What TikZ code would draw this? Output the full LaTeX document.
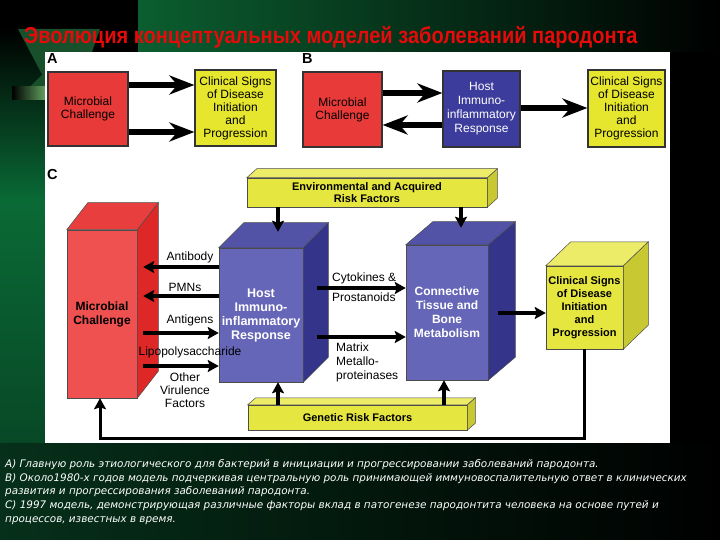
\documentclass[tikz,border=0pt]{standalone}
\usepackage{fontspec}
\setmainfont{Liberation Sans}
\newfontfamily\capfont{DejaVu Sans}
\usepackage{graphicx}
\usetikzlibrary{arrows.meta}
\definecolor{redA}{RGB}{232,58,56}
\definecolor{yelA}{RGB}{230,230,46}
\definecolor{blueB}{RGB}{60,60,156}
\definecolor{redF}{RGB}{239,80,80}
\definecolor{redS}{RGB}{222,40,40}
\definecolor{redT}{RGB}{232,62,62}
\definecolor{bluF}{RGB}{102,102,184}
\definecolor{bluS}{RGB}{52,52,138}
\definecolor{bluT}{RGB}{82,82,166}
\definecolor{yelF}{RGB}{230,230,64}
\definecolor{yelS}{RGB}{200,200,50}
\definecolor{yelT}{RGB}{236,236,104}
\definecolor{gA}{RGB}{10,106,54}
\definecolor{gB}{RGB}{8,72,38}
\definecolor{gC}{RGB}{6,48,26}
\definecolor{gTop}{RGB}{11,94,48}
\definecolor{gDeco}{RGB}{24,80,44}
\definecolor{titleRed}{RGB}{230,10,10}

\newcommand{\boxsides}[5]{%
  \filldraw[fill=#4, draw=black!70, line width=0.5pt] (#1.north east) -- ++(#2,#3) -- ([shift={(#2,#3)}]#1.south east) -- (#1.south east) -- cycle;
  \filldraw[fill=#5, draw=black!70, line width=0.5pt] (#1.north west) -- ++(#2,#3) -- ([shift={(#2,#3)}]#1.north east) -- (#1.north east) -- cycle;
}

\begin{document}
\begin{tikzpicture}[x=1pt, y=-1pt,
  flat/.style={draw=black!80, line width=1.2pt, align=center, inner sep=0pt, font=\fontsize{12}{13}\selectfont},
  front/.style={draw=black!70, line width=0.5pt, align=center, inner sep=0pt, font=\bfseries\fontsize{12}{14}\selectfont},
  lbl/.style={align=center, inner sep=0pt, font=\fontsize{12}{13}\selectfont},
  panel/.style={anchor=west, inner sep=0pt, font=\bfseries\fontsize{14.5}{14.5}\selectfont},
  bigarrow/.style={line width=6pt, -{Stealth[length=25pt,width=19pt,inset=8pt]}},
  arrC/.style={line width=3.5pt, -{Stealth[length=11pt,width=12pt,inset=2pt]}}]
\useasboundingbox (0,0) rectangle (720,540);
\fill[black] (0,0) rectangle (720,540);
\shade[left color=gTop, right color=black] (138,0) rectangle (720,52);
\shade[top color=black, bottom color=gA] (0,28) rectangle (45,200);
\shade[top color=gA, bottom color=gB] (0,200) rectangle (45,443);
\shade[left color=gC, right color=black] (0,443) rectangle (720,540);
\fill[gDeco] (18,29) -- (100,29) -- (92,52) -- (45,52) -- (45,80) -- cycle;
\fill[gDeco] (30,87) -- (45,72) -- (45,87) -- cycle;
\shade[left color=black, right color=green!25!gray] (12,87) rectangle (45,100);
\fill[white] (45,52) rectangle (670,443);

\node[anchor=west, inner sep=0pt, text=titleRed, font=\bfseries\fontsize{23}{25}\selectfont] (title) at (24,37)
  {\scalebox{0.87}[1]{Эволюция концептуальных моделей заболеваний пародонта}};

% A
\node[panel] (labA) at (47,59) {A};
\node[flat, fill=redA, minimum width=80pt, minimum height=74pt] (microA) at (88,109) {Microbial\\Challenge};
\node[flat, fill=yelA, minimum width=81pt, minimum height=76pt] (clinA) at (235.5,108) {Clinical Signs\\of Disease\\Initiation\\and\\Progression};
\draw[bigarrow] (microA.east |- 0,85) -- (clinA.west |- 0,85);
\draw[bigarrow] (microA.east |- 0,132) -- (clinA.west |- 0,132);

% B
\node[panel] (labB) at (302,59) {B};
\node[flat, fill=redA, minimum width=79pt, minimum height=75pt] (microB) at (342.5,109.5) {Microbial\\Challenge};
\node[flat, fill=blueB, text=white, minimum width=77pt, minimum height=76pt, font=\fontsize{12}{14}\selectfont] (hostB) at (481.5,109) {Host\\Immuno-\\inflammatory\\Response};
\node[flat, fill=yelA, minimum width=77pt, minimum height=77pt] (clinB) at (626.5,108.5) {Clinical Signs\\of Disease\\Initiation\\and\\Progression};
\draw[bigarrow] (microB.east |- 0,93) -- (hostB.west |- 0,93);
\draw[bigarrow] (hostB.west |- 0,125) -- (microB.east |- 0,125);
\draw[bigarrow] (hostB.east |- 0,108) -- (clinB.west |- 0,108);

% C
\node[panel] (labC) at (47,175) {C};
\node[front, fill=yelF, minimum width=240pt, minimum height=29pt, font=\bfseries\fontsize{11}{12.5}\selectfont] (envC) at (367,192.5) {Environmental and Acquired\\Risk Factors};
\boxsides{envC}{10}{-9}{yelS}{yelT}
\node[front, fill=redF, minimum width=70pt, minimum height=168pt] (microC) at (102,314) {Microbial\\Challenge};
\boxsides{microC}{21}{-27}{redS}{redT}
\node[front, fill=bluF, text=white, minimum width=84pt, minimum height=134pt, font=\bfseries\fontsize{12.5}{14}\selectfont] (hostC) at (261,315) {Host\\Immuno-\\inflammatory\\Response};
\boxsides{hostC}{25}{-25}{bluS}{bluT}
\node[front, fill=bluF, text=white, minimum width=82pt, minimum height=135pt] (connC) at (447,312.5) {Connective\\Tissue and\\Bone\\Metabolism};
\boxsides{connC}{27}{-23}{bluS}{bluT}
\node[front, fill=yelF, minimum width=77pt, minimum height=83pt, font=\bfseries\fontsize{11}{13}\selectfont] (clinC) at (584.5,307.5) {Clinical Signs\\of Disease\\Initiation\\and\\Progression};
\boxsides{clinC}{25}{-24}{yelS}{yelT}
\node[front, fill=yelF, minimum width=219pt, minimum height=25pt, font=\bfseries\fontsize{11}{12}\selectfont] (genC) at (357.5,417.5) {Genetic Risk Factors};
\boxsides{genC}{8}{-7}{yelS}{yelT}

\coordinate (mR) at ([xshift=6pt]microC.east);
\coordinate (hR) at ([xshift=14pt]hostC.east);
\coordinate (cR) at ([xshift=10pt]connC.east);
\coordinate (hT) at ([shift={(17,-16)}]hostC.north);
\coordinate (cT) at ([shift={(14,-17)}]connC.north);
\coordinate (hB) at ([xshift=17pt]hostC.south);
\coordinate (cB) at ([xshift=-3pt]connC.south);
\coordinate (loop) at (0,438);

\node[lbl] (antibody) at (190,257) {Antibody};
\node[lbl] (pmns) at (185,287) {PMNs};
\node[lbl] (antigens) at (190,320) {Antigens};
\node[lbl] (lps) at (190,352) {Lipopolysaccharide};
\node[lbl] (other) at (185,390) {Other\\Virulence\\Factors};
\node[lbl, anchor=west] (cyto) at (332,278) {Cytokines \&};
\node[lbl, anchor=west] (prost) at (332,297) {Prostanoids};
\node[lbl, anchor=west, align=left, font=\fontsize{12}{14}\selectfont] (mmp) at (336,362) {Matrix\\Metallo-\\proteinases};

\draw[arrC] (hostC.west |- 0,267) -- (mR |- 0,267);
\draw[arrC] (hostC.west |- 0,296) -- (mR |- 0,296);
\draw[arrC] (mR |- 0,333) -- (hostC.west |- 0,333);
\draw[arrC] (mR |- 0,366) -- (hostC.west |- 0,366);
\draw[arrC] (hR |- 0,288) -- (connC.west |- 0,288);
\draw[arrC] (hR |- 0,337) -- (connC.west |- 0,337);
\draw[arrC] (cR |- 0,313) -- (clinC.west |- 0,313);
\draw[arrC] (envC.south -| hT) -- (hT);
\draw[arrC] (envC.south -| cT) -- (cT);
\draw[arrC] (genC.north -| hB) -- (hB);
\draw[arrC] (genC.north -| cB) -- (cB);
\draw[line width=3pt, -{Stealth[length=11pt,width=12pt,inset=2pt]}] (clinC.south) -- (clinC.south |- loop) -| ([xshift=-2pt]microC.south);

\node[anchor=north west, align=left, inner sep=0pt, text=white, font=\capfont\itshape\fontsize{10.4}{13.8}\selectfont] (caption) at (5,459)
  {А) Главную роль этиологического для бактерий в инициации и прогрессировании заболеваний пародонта.\\
   В) Около1980-х годов модель подчеркивая центральную роль принимающей иммуновоспалительную ответ в клинических\\
   развития и прогрессирования заболеваний пародонта.\\
   С) 1997 модель, демонстрирующая различные факторы вклад в патогенезе пародонтита человека на основе путей и\\
   процессов, известных в время.};
\end{tikzpicture}
\end{document}
